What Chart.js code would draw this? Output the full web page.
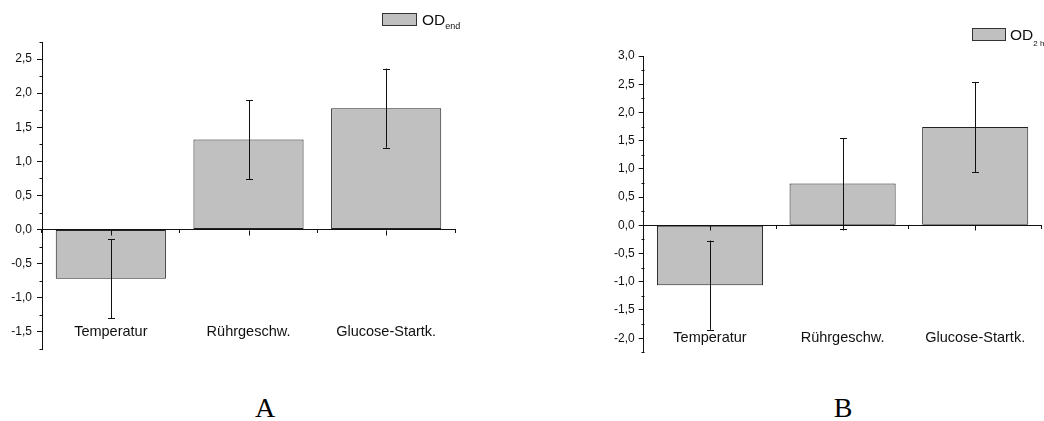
<!DOCTYPE html>
<html>
<head>
<meta charset="utf-8">
<script src="https://cdn.jsdelivr.net/npm/chart.js@4/dist/chart.umd.min.js"></script>
<style>
  html, body { margin: 0; padding: 0; background: #fff; }
  body { width: 1044px; height: 421px; position: relative; overflow: hidden; font-family: "Liberation Sans", Arial, sans-serif; }
  .panel { position: absolute; top: 0; }
  .legend-box { position: absolute; background: #c0c0c0; border: 1px solid #333; box-sizing: border-box; }
  .legend-text { position: absolute; font-size: 15.5px; line-height: 15px; color: #111; white-space: nowrap; }
  .legend-text sub { font-size: 9px; line-height: 0; vertical-align: -4px; }
  .caption { position: absolute; font-family: "Liberation Serif", "Times New Roman", serif; font-size: 28px; line-height: 28px; color: #000; width: 40px; text-align: center; }
</style>
</head>
<body>
<div class="panel" style="left:0;width:480px;height:370px"><canvas id="chartA" width="480" height="370"></canvas></div>
<div class="panel" style="left:530px;width:514px;height:370px"><canvas id="chartB" width="514" height="370"></canvas></div>

<div class="legend-box" style="left:382px;top:13px;width:35px;height:13px"></div>
<div class="legend-text" style="left:422px;top:12px">OD<sub>end</sub></div>
<div class="legend-box" style="left:972px;top:28px;width:34px;height:13px"></div>
<div class="legend-text" style="left:1010px;top:27px">OD<sub style="font-size:8px;vertical-align:-6px">2 h</sub></div>

<div class="caption" style="left:245px;top:394px">A</div>
<div class="caption" style="left:823px;top:394px">B</div>

<script>
// Factors studied (x categories)
const categories = ['Temperatur', 'Rührgeschw.', 'Glucose-Startk.'];

// Panel A: effect on final optical density
const odEnd = [-0.72, 1.32, 1.78];
const odEndErr = [0.58, 0.58, 0.58];
const rangeA = [-1.75, 2.75];
const ticksA = [-1.5, -1.0, -0.5, 0.0, 0.5, 1.0, 1.5, 2.0, 2.5];

// Panel B: effect on optical density after 2 h
const od2h = [-1.06, 0.74, 1.74];
const od2hErr = [0.79, 0.80, 0.80];
const rangeB = [-2.25, 3.0];
const ticksB = [-2.0, -1.5, -1.0, -0.5, 0.0, 0.5, 1.0, 1.5, 2.0, 2.5, 3.0];

const BAR_FILL = '#c0c0c0';
const BAR_EDGE = '#222';
const INK = '#111';

const fmtComma = v => v.toFixed(1).replace('.', ',');

// Error bars, minor y ticks and the major ticks at category centres
const decorations = {
  id: 'decorations',
  afterDraw(chart, args, opts) {
    const { ctx, chartArea } = chart;
    const xs = chart.scales.x, ys = chart.scales.y;
    const ds = chart.data.datasets[0];
    const meta = chart.getDatasetMeta(0);
    ctx.save();
    ctx.strokeStyle = INK;
    ctx.lineWidth = 1;
    // error bars
    ds.data.forEach((v, i) => {
      const e = opts.errors[i];
      const x = Math.round(meta.data[i].x) + 0.5;
      const y1 = ys.getPixelForValue(v + e);
      const y2 = ys.getPixelForValue(v - e);
      ctx.beginPath();
      ctx.moveTo(x, y1); ctx.lineTo(x, y2);
      ctx.moveTo(x - 3.5, Math.round(y1) + 0.5); ctx.lineTo(x + 3.5, Math.round(y1) + 0.5);
      ctx.moveTo(x - 3.5, Math.round(y2) + 0.5); ctx.lineTo(x + 3.5, Math.round(y2) + 0.5);
      ctx.stroke();
    });
    // minor ticks on the y axis, halfway between the labelled ones
    const left = Math.round(chartArea.left) + 0.5;
    const major = opts.majorTicks;
    const minor = major.map(v => v - 0.25).concat([major[major.length - 1] + 0.25]);
    minor.filter(v => v >= ys.min - 1e-9 && v <= ys.max + 1e-9).forEach(v => {
      const y = Math.round(ys.getPixelForValue(v)) + 0.5;
      ctx.beginPath(); ctx.moveTo(left - 3, y); ctx.lineTo(left, y); ctx.stroke();
    });
    // major ticks below the zero line at category centres
    const y0 = Math.round(ys.getPixelForValue(0)) + 0.5;
    categories.forEach((c, i) => {
      const x = Math.round(xs.getPixelForValue(i)) + 0.5;
      ctx.beginPath(); ctx.moveTo(x, y0); ctx.lineTo(x, y0 + 5); ctx.stroke();
    });
    ctx.restore();
  }
};

function makeChart(id, values, errors, range, tickValues, pad, yWidth, labelPad, yLabelPad) {
  return new Chart(document.getElementById(id), {
    type: 'bar',
    data: {
      labels: categories,
      datasets: [{
        data: values,
        backgroundColor: BAR_FILL,
        borderColor: BAR_EDGE,
        borderWidth: 1,
        borderSkipped: false,
        categoryPercentage: 1.0,
        barPercentage: 0.8
      }]
    },
    options: {
      responsive: false,
      animation: false,
      devicePixelRatio: 1,
      layout: { padding: pad },
      plugins: {
        legend: { display: false },
        tooltip: { enabled: false },
        decorations: { errors: errors, majorTicks: tickValues }
      },
      scales: {
        x: {
          position: { y: 0 },
          z: 1,
          grid: { drawOnChartArea: false, drawTicks: true, tickLength: 3, color: INK, offset: true },
          border: { display: true, color: INK, width: 1 },
          ticks: {
            padding: labelPad,
            maxRotation: 0,
            autoSkip: false,
            color: INK,
            font: { family: '"Liberation Sans", Arial, sans-serif', size: 14.5 }
          },
          afterFit: s => { s.height = 0; s.paddingLeft = 0; s.paddingRight = 0; }
        },
        y: {
          min: range[0],
          max: range[1],
          grid: { drawOnChartArea: false, drawTicks: true, tickLength: 5, color: INK },
          border: { display: true, color: INK, width: 1 },
          ticks: {
            padding: yLabelPad,
            color: INK,
            font: { family: '"Liberation Sans", Arial, sans-serif', size: 12 },
            callback: v => fmtComma(v)
          },
          afterBuildTicks: s => { s.ticks = tickValues.map(v => ({ value: v })); },
          afterFit: s => { s.width = yWidth; s.paddingTop = 0; s.paddingBottom = 0; }
        }
      }
    },
    plugins: [decorations]
  });
}

makeChart('chartA', odEnd, odEndErr, rangeA, ticksA, { left: 0, top: 42, right: 25, bottom: 21 }, 42, 90.5, 5);
makeChart('chartB', od2h, od2hErr, rangeB, ticksB, { left: 0, top: 56, right: 2.5, bottom: 17.7 }, 113.7, 101, 4);
</script>
</body>
</html>
